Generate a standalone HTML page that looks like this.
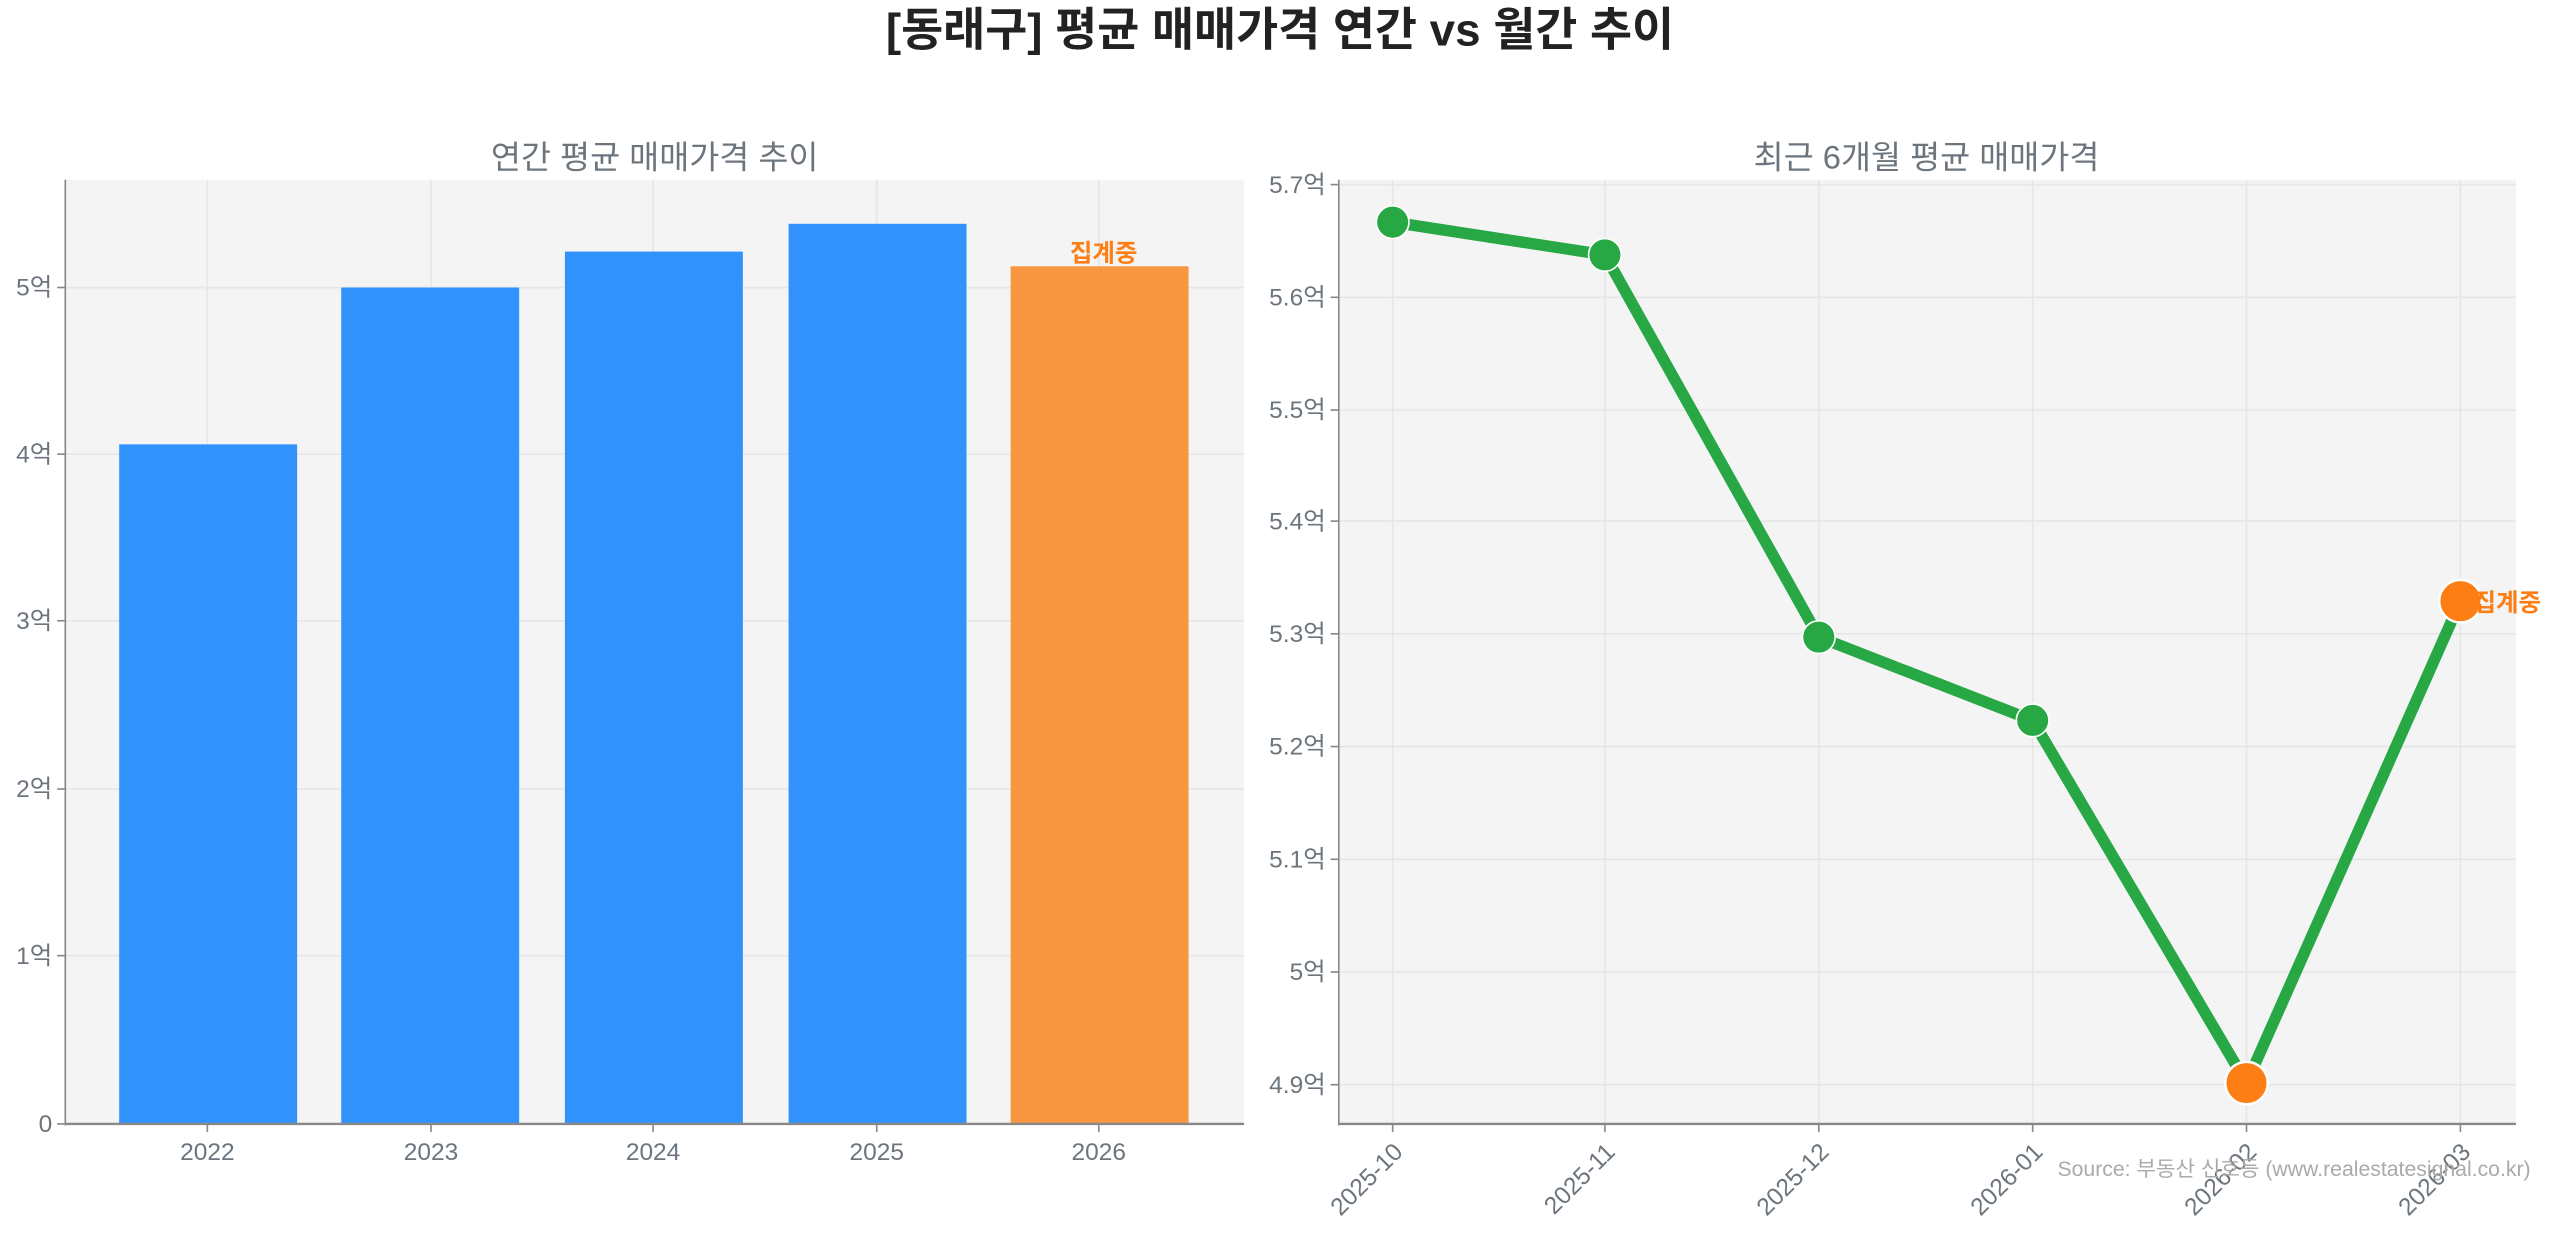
<!DOCTYPE html>
<html><head><meta charset="utf-8"><style>
html,body{margin:0;padding:0;background:#fff;}
svg{display:block;}
text{font-family:"Liberation Sans","Noto Sans CJK KR",sans-serif;}
</style></head><body>
<svg width="2560" height="1235" viewBox="0 0 1568 756" preserveAspectRatio="none" xmlns="http://www.w3.org/2000/svg">
<rect width="1568" height="756" fill="#fff"/>
<text x="784" y="28" text-anchor="middle" font-size="28" font-weight="bold" fill="#222">[동래구] 평균 매매가격 연간 vs 월간 추이</text>

<!-- Left -->
<text x="401" y="103" text-anchor="middle" font-size="20" fill="#6c757d">연간 평균 매매가격 추이</text>
<rect x="40" y="110" width="722" height="578" fill="#f4f4f4"/>
<g stroke="#e6e6e6" stroke-width="1">
<line x1="127" y1="110" x2="127" y2="688"/><line x1="264" y1="110" x2="264" y2="688"/>
<line x1="400" y1="110" x2="400" y2="688"/><line x1="537" y1="110" x2="537" y2="688"/>
<line x1="673" y1="110" x2="673" y2="688"/>
<line x1="40" y1="585" x2="762" y2="585"/><line x1="40" y1="483" x2="762" y2="483"/>
<line x1="40" y1="380" x2="762" y2="380"/><line x1="40" y1="278" x2="762" y2="278"/>
<line x1="40" y1="176" x2="762" y2="176"/>
</g>
<rect x="73" y="272" width="109" height="416" fill="#3192fb"/>
<rect x="209" y="176" width="109" height="512" fill="#3192fb"/>
<rect x="346" y="154" width="109" height="534" fill="#3192fb"/>
<rect x="483" y="137" width="109" height="551" fill="#3192fb"/>
<rect x="619" y="163" width="109" height="525" fill="#f99740"/>
<text x="676" y="160" text-anchor="middle" font-size="15" font-weight="bold" fill="#fd7e14">집계중</text>
<line x1="40" y1="110" x2="40" y2="689" stroke="#888" stroke-width="1"/>
<line x1="40" y1="688" x2="762" y2="688" stroke="#888" stroke-width="1.5"/>
<g stroke="#888" stroke-width="1">
<line x1="35" y1="688" x2="40" y2="688"/><line x1="35" y1="585" x2="40" y2="585"/><line x1="35" y1="483" x2="40" y2="483"/>
<line x1="35" y1="380" x2="40" y2="380"/><line x1="35" y1="278" x2="40" y2="278"/><line x1="35" y1="176" x2="40" y2="176"/>
<line x1="127" y1="688" x2="127" y2="693"/><line x1="264" y1="688" x2="264" y2="693"/><line x1="400" y1="688" x2="400" y2="693"/>
<line x1="537" y1="688" x2="537" y2="693"/><line x1="673" y1="688" x2="673" y2="693"/>
</g>
<g font-size="15" fill="#6c757d" text-anchor="end">
<text x="32" y="693">0</text><text x="32" y="590">1억</text><text x="32" y="488">2억</text>
<text x="32" y="385">3억</text><text x="32" y="283">4억</text><text x="32" y="181">5억</text>
</g>
<g font-size="15" fill="#6c757d" text-anchor="middle">
<text x="127" y="710">2022</text><text x="264" y="710">2023</text><text x="400" y="710">2024</text>
<text x="537" y="710">2025</text><text x="673" y="710">2026</text>
</g>

<!-- Right -->
<text x="1180" y="103" text-anchor="middle" font-size="20" fill="#6c757d">최근 6개월 평균 매매가격</text>
<rect x="820" y="110" width="721" height="578" fill="#f4f4f4"/>
<g stroke="#e6e6e6" stroke-width="1">
<line x1="853" y1="110" x2="853" y2="688"/><line x1="983" y1="110" x2="983" y2="688"/>
<line x1="1114" y1="110" x2="1114" y2="688"/><line x1="1245" y1="110" x2="1245" y2="688"/>
<line x1="1376" y1="110" x2="1376" y2="688"/><line x1="1507" y1="110" x2="1507" y2="688"/>
<line x1="820" y1="113" x2="1541" y2="113"/><line x1="820" y1="182" x2="1541" y2="182"/>
<line x1="820" y1="251" x2="1541" y2="251"/><line x1="820" y1="319" x2="1541" y2="319"/>
<line x1="820" y1="388" x2="1541" y2="388"/><line x1="820" y1="457" x2="1541" y2="457"/>
<line x1="820" y1="526" x2="1541" y2="526"/><line x1="820" y1="595" x2="1541" y2="595"/>
<line x1="820" y1="664" x2="1541" y2="664"/>
</g>
<polyline points="853,136 983,156 1114,390 1245,441 1376,663 1507,368" fill="none" stroke="#28a745" stroke-width="7" stroke-linejoin="round"/>
<g fill="#28a745" stroke="#fff" stroke-width="1">
<circle cx="853" cy="136" r="10"/><circle cx="983" cy="156" r="10"/>
<circle cx="1114" cy="390" r="10"/><circle cx="1245" cy="441" r="10"/>
</g>
<g fill="#fd7e14" stroke="#fff" stroke-width="1.5">
<circle cx="1376" cy="663" r="13"/><circle cx="1507" cy="368" r="13"/>
</g>
<text x="1515" y="374" font-size="15" font-weight="bold" fill="#fd7e14">집계중</text>
<line x1="820" y1="110" x2="820" y2="689" stroke="#888" stroke-width="1"/>
<line x1="820" y1="688" x2="1541" y2="688" stroke="#888" stroke-width="1.5"/>
<g stroke="#888" stroke-width="1">
<line x1="815" y1="113" x2="820" y2="113"/><line x1="815" y1="182" x2="820" y2="182"/><line x1="815" y1="251" x2="820" y2="251"/>
<line x1="815" y1="319" x2="820" y2="319"/><line x1="815" y1="388" x2="820" y2="388"/><line x1="815" y1="457" x2="820" y2="457"/>
<line x1="815" y1="526" x2="820" y2="526"/><line x1="815" y1="595" x2="820" y2="595"/><line x1="815" y1="664" x2="820" y2="664"/>
<line x1="853" y1="688" x2="853" y2="693"/><line x1="983" y1="688" x2="983" y2="693"/><line x1="1114" y1="688" x2="1114" y2="693"/>
<line x1="1245" y1="688" x2="1245" y2="693"/><line x1="1376" y1="688" x2="1376" y2="693"/><line x1="1507" y1="688" x2="1507" y2="693"/>
</g>
<g font-size="15" fill="#6c757d" text-anchor="end">
<text x="812" y="118">5.7억</text><text x="812" y="187">5.6억</text><text x="812" y="256">5.5억</text>
<text x="812" y="324">5.4억</text><text x="812" y="393">5.3억</text><text x="812" y="462">5.2억</text>
<text x="812" y="531">5.1억</text><text x="812" y="600">5억</text><text x="812" y="669">4.9억</text>
</g>
<g font-size="15" fill="#6c757d" text-anchor="end">
<text transform="translate(860,706) rotate(-45)">2025-10</text>
<text transform="translate(990,706) rotate(-45)">2025-11</text>
<text transform="translate(1121,706) rotate(-45)">2025-12</text>
<text transform="translate(1252,706) rotate(-45)">2026-01</text>
<text transform="translate(1383,706) rotate(-45)">2026-02</text>
<text transform="translate(1514,706) rotate(-45)">2026-03</text>
</g>
<text x="1550" y="720" text-anchor="end" font-size="13" fill="#aaa">Source: 부동산 신호등 (www.realestatesignal.co.kr)</text>
</svg>
</body></html>
